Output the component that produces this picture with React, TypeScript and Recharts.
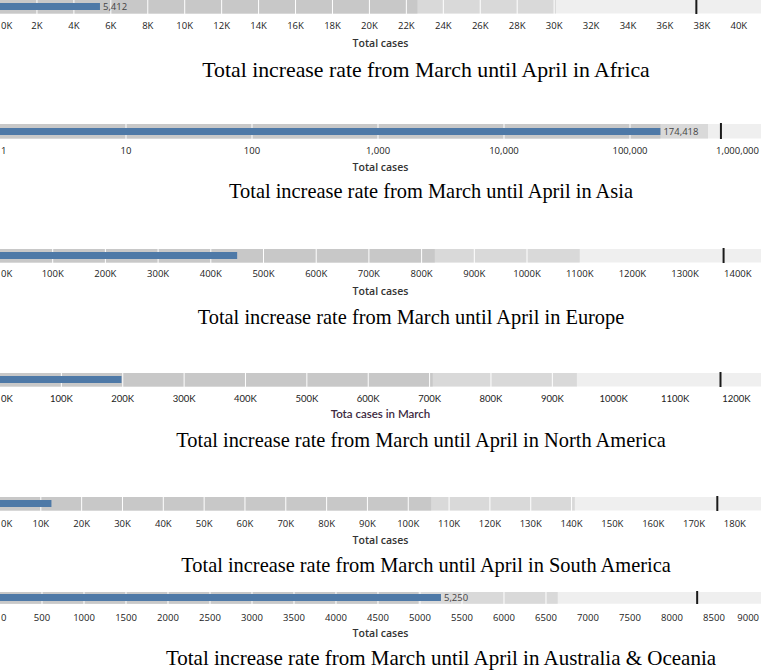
import React from "react";
import { BarChart, Bar, XAxis, YAxis, ReferenceLine, LabelList } from "recharts";

const W = 761;

// Africa
const africaTicks = [0, 2000, 4000, 6000, 8000, 10000, 12000, 14000, 16000, 18000, 20000, 22000, 24000, 26000, 28000, 30000, 32000, 34000, 36000, 38000, 40000];
const africaBands = [22600, 30100];
const africaActual = 5412;
const africaTarget = 37700;

// Asia (log axis)
const asiaTicks = [1, 10, 100, 1000, 10000, 100000, 1000000];
const asiaBands = [174418, 416000];
const asiaActual = 174418;
const asiaTarget = 527000;

// Europe
const europeTicks = [0, 100000, 200000, 300000, 400000, 500000, 600000, 700000, 800000, 900000, 1000000, 1100000, 1200000, 1300000, 1400000];
const europeBands = [825000, 1100000];
const europeActual = 450000;
const europeTarget = 1373000;

// North America
const naTicks = [0, 100000, 200000, 300000, 400000, 500000, 600000, 700000, 800000, 900000, 1000000, 1100000, 1200000];
const naBands = [705000, 940000];
const naActual = 198000;
const naTarget = 1174000;

// South America
const saTicks = [0, 10000, 20000, 30000, 40000, 50000, 60000, 70000, 80000, 90000, 100000, 110000, 120000, 130000, 140000, 150000, 160000, 170000, 180000];
const saBands = [105600, 140800];
const saActual = 12600;
const saTarget = 175700;

// Australia & Oceania
const ocTicks = [0, 500, 1000, 1500, 2000, 2500, 3000, 3500, 4000, 4500, 5000, 5500, 6000, 6500, 7000, 7500, 8000, 8500, 9000];
const ocBands = [4980, 6640];
const ocActual = 5250;
const ocTarget = 8300;

const kFmt = (v: number) => `${Math.round(v / 1000)}K`;
const commaFmt = (v: number) => v.toLocaleString("en-US");
const plainFmt = (v: number) => String(v);

type PanelProps = {
  top: number;
  bandH: number;
  blueH: number;
  ticks: number[];
  min: number;
  max: number;
  log?: boolean;
  bands: number[];
  actual: number;
  target: number;
  showValue?: boolean;
  fmt: (v: number) => string;
  tickGap: number;
  tickFont: string;
  tickColor: string;
  axisLabel: string;
  axisLabelY: number;
  axisFont: string;
  axisColor: string;
  axisSize: number;
  title: string;
  titleY: number;
  titleX: number;
  titleSize: number;
};

function Panel(p: PanelProps) {
  const axisH = 30;
  const data = [{ name: "row", light: p.max, mid: p.bands[1], dark: p.bands[0], actual: p.actual }];
  const grid = p.ticks.filter((t) => t > p.min && t < p.bands[1]);
  const xProps = {
    type: "number" as const,
    scale: (p.log ? "log" : "linear") as any,
    domain: [p.min, p.max],
    ticks: p.ticks,
    allowDataOverflow: true,
  };

  const Tick = (props: any) => {
    const { x, payload, index } = props;
    const label = p.fmt(payload.value);
    const approxW = label.length * 5.4;
    let anchor: "start" | "middle" | "end" = "middle";
    let tx = x;
    if (index === 0 && x - approxW / 2 < 0) {
      anchor = "start";
      tx = 1;
    } else if (x + approxW / 2 > W) {
      anchor = "end";
      tx = W - 2;
    }
    return (
      <text
        x={tx}
        y={p.bandH + p.tickGap}
        textAnchor={anchor}
        dominantBaseline="central"
        fontSize={9.5}
        fontFamily={p.tickFont}
        fill={p.tickColor}
      >
        {label}
      </text>
    );
  };

  return (
    <>
      {/* bands, gridlines and axis */}
      <div style={{ position: "absolute", left: 0, top: p.top }}>
        <BarChart
          width={W}
          height={p.bandH + axisH}
          layout="vertical"
          data={data}
          margin={{ top: 0, right: 0, bottom: 0, left: 0 }}
        >
          <XAxis {...xProps} interval={0} axisLine={false} tickLine={false} height={axisH} tick={<Tick />} />
          <YAxis yAxisId="light" type="category" dataKey="name" hide />
          <YAxis yAxisId="mid" type="category" dataKey="name" hide />
          <YAxis yAxisId="dark" type="category" dataKey="name" hide />
          <Bar yAxisId="light" dataKey="light" fill="#efefef" barSize={p.bandH} isAnimationActive={false} />
          <Bar yAxisId="mid" dataKey="mid" fill="#d9d9d9" barSize={p.bandH} isAnimationActive={false} />
          <Bar yAxisId="dark" dataKey="dark" fill="#c8c8c8" barSize={p.bandH} isAnimationActive={false} />
          {grid.map((t) => (
            <ReferenceLine key={t} yAxisId="light" x={t} stroke="#ffffff" strokeWidth={1} />
          ))}
        </BarChart>
      </div>
      {/* actual value bar and target marker, laid over the bands */}
      <div style={{ position: "absolute", left: 0, top: p.top }}>
        <BarChart
          width={W}
          height={p.bandH + axisH}
          layout="vertical"
          data={data}
          margin={{ top: 0, right: 0, bottom: axisH, left: 0 }}
        >
          <XAxis {...xProps} hide />
          <YAxis type="category" dataKey="name" hide />
          <Bar dataKey="actual" fill="#4e79a7" barSize={p.blueH} isAnimationActive={false}>
            {p.showValue && (
              <LabelList
                dataKey="actual"
                position="right"
                offset={3}
                formatter={(v: any) => commaFmt(Number(v))}
                style={{ fontSize: 9.5, fontFamily: "'Open Sans', sans-serif", fill: "#444" }}
              />
            )}
          </Bar>
          <ReferenceLine x={p.target} stroke="#1a1a1a" strokeWidth={2} />
        </BarChart>
      </div>
      <div
        style={{
          position: "absolute",
          left: 0,
          width: W,
          top: p.axisLabelY - 8,
          height: 16,
          lineHeight: "16px",
          textAlign: "center",
          fontFamily: p.axisFont,
          fontSize: p.axisSize,
          fontWeight: 600,
          color: p.axisColor,
        }}
      >
        {p.axisLabel}
      </div>
      <div
        style={{
          position: "absolute",
          left: p.titleX,
          transform: "translateX(-50%)",
          top: p.titleY - 14,
          height: 28,
          lineHeight: "28px",
          whiteSpace: "nowrap",
          fontFamily: "'Liberation Serif', 'Times New Roman', serif",
          fontSize: p.titleSize,
          color: "#000",
        }}
      >
        {p.title}
      </div>
    </>
  );
}

const common = {
  blueH: 7,
  tickFont: "'Open Sans', sans-serif",
  tickColor: "#222",
  axisFont: "'Open Sans', sans-serif",
  axisColor: "#333",
  axisSize: 10.5,
};

export default function App() {
  return (
    <div style={{ position: "absolute", left: 0, top: 0, width: W, height: 671, background: "#fff", overflow: "hidden" }}>
      <Panel
        {...common}
        top={-2}
        bandH={16}
        ticks={africaTicks}
        min={0}
        max={41200}
        bands={africaBands}
        actual={africaActual}
        target={africaTarget}
        showValue
        fmt={kFmt}
        tickGap={11}
        axisLabel="Total cases"
        axisLabelY={43}
        title="Total increase rate from March until April in Africa"
        titleY={70}
        titleX={426}
        titleSize={21.8}
      />
      <Panel
        {...common}
        top={123}
        bandH={16}
        ticks={asiaTicks}
        min={1}
        max={1096000}
        log
        bands={asiaBands}
        actual={asiaActual}
        target={asiaTarget}
        showValue
        fmt={commaFmt}
        tickGap={11}
        axisLabel="Total cases"
        axisLabelY={167}
        title="Total increase rate from March until April in Asia"
        titleY={191}
        titleX={431}
        titleSize={20.4}
      />
      <Panel
        {...common}
        top={248}
        bandH={15}
        ticks={europeTicks}
        min={0}
        max={1444000}
        bands={europeBands}
        actual={europeActual}
        target={europeTarget}
        fmt={kFmt}
        tickGap={10}
        axisLabel="Total cases"
        axisLabelY={291}
        title="Total increase rate from March until April in Europe"
        titleY={317}
        titleX={411}
        titleSize={20.4}
      />
      <Panel
        {...common}
        top={372}
        bandH={15}
        ticks={naTicks}
        min={0}
        max={1240000}
        bands={naBands}
        actual={naActual}
        target={naTarget}
        fmt={kFmt}
        tickGap={11}
        tickFont="Lato, sans-serif"
        axisFont="Lato, sans-serif"
        axisColor="#3d2a3f"
        axisSize={11.5}
        axisLabel="Tota cases in March"
        axisLabelY={414}
        title="Total increase rate from March until April in North America"
        titleY={440}
        titleX={421}
        titleSize={20.4}
      />
      <Panel
        {...common}
        top={496}
        bandH={15}
        ticks={saTicks}
        min={0}
        max={186400}
        bands={saBands}
        actual={saActual}
        target={saTarget}
        fmt={kFmt}
        tickGap={12}
        axisLabel="Total cases"
        axisLabelY={540}
        title="Total increase rate from March until April in South America"
        titleY={565}
        titleX={426}
        titleSize={20.4}
      />
      <Panel
        {...common}
        top={591}
        bandH={13}
        ticks={ocTicks}
        min={0}
        max={9060}
        bands={ocBands}
        actual={ocActual}
        target={ocTarget}
        showValue
        fmt={plainFmt}
        tickGap={13}
        axisLabel="Total cases"
        axisLabelY={633}
        title="Total increase rate from March until April in Australia & Oceania"
        titleY={658}
        titleX={441}
        titleSize={21}
      />
    </div>
  );
}
